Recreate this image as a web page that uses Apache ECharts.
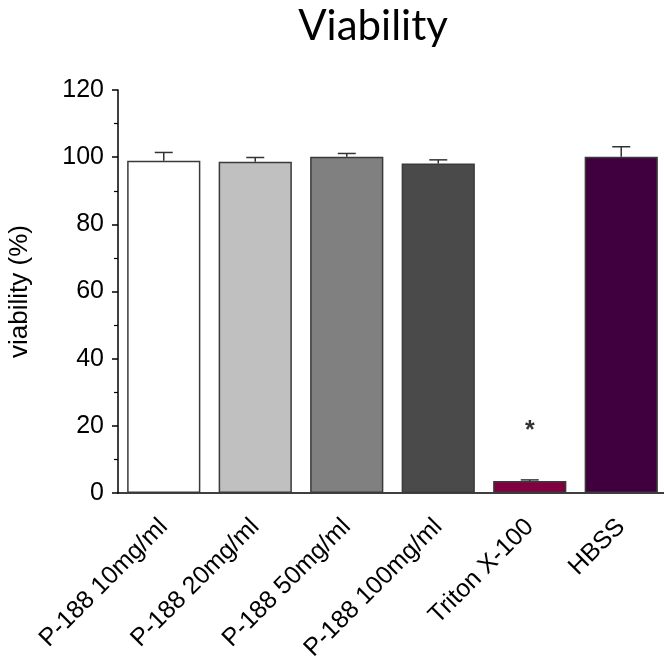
<!DOCTYPE html>
<html>
<head>
<meta charset="utf-8">
<script src="https://cdn.jsdelivr.net/npm/echarts@6/dist/echarts.min.js"></script>
<style>
  html, body { margin: 0; padding: 0; background: #fff; }
  #chart { width: 664px; height: 661px; }
</style>
</head>
<body>
<div id="chart"></div>
<script>
// data
const categories = ['P-188 10mg/ml', 'P-188 20mg/ml', 'P-188 50mg/ml', 'P-188 100mg/ml', 'Triton X-100', 'HBSS']
const viability = [98.9, 98.6, 100.1, 98.1, 3.6, 100.1]
const errors = [2.5, 1.3, 1.0, 1.1, 0.3, 3.0]
const barColors = ['#ffffff', '#c0c0c0', '#808080', '#4a4a4a', '#800040', '#400040']
const yTicks = [0, 20, 40, 60, 80, 100, 120]
const starMarks = [[4, 18.5]]

const chart = echarts.init(document.getElementById('chart'))

// 误差线：竖线加上端横帽
function renderError(params, api) {
  const i = api.value(0)
  const top = api.coord([i, api.value(1) + api.value(2)])
  const base = api.coord([i, api.value(1)])
  const half = 9
  const style = { stroke: '#333', lineWidth: 1.5 }
  return {
    type: 'group',
    children: [
      { type: 'line', shape: { x1: base[0], y1: base[1], x2: top[0], y2: top[1] }, style },
      { type: 'line', shape: { x1: top[0] - half, y1: top[1], x2: top[0] + half, y2: top[1] }, style },
    ],
  }
}

chart.setOption({
  animation: false,
  title: {
    text: 'Viability',
    left: 368,
    textAlign: 'center',
    top: 0,
    textStyle: { fontFamily: 'Lato', fontWeight: 'normal', fontSize: 42, color: '#000' },
  },
  grid: { left: 118, right: -3, top: 90, bottom: 168, containLabel: false, outerBoundsMode: 'none' },
  xAxis: {
    type: 'category',
    data: categories,
    axisLine: { lineStyle: { color: '#000', width: 1.5 } },
    axisTick: { alignWithLabel: true, length: 7, lineStyle: { color: '#000', width: 1.5 } },
    axisLabel: {
      rotate: 45,
      interval: 0,
      margin: 30,
      fontFamily: 'Liberation Sans',
      fontSize: 25,
      color: '#000',
    },
  },
  yAxis: {
    type: 'value',
    min: yTicks[0],
    max: yTicks[yTicks.length - 1],
    interval: 20,
    name: 'viability (%)',
    nameLocation: 'middle',
    nameGap: 85,
    nameTextStyle: { fontFamily: 'Liberation Sans', fontSize: 26, color: '#000' },
    axisLine: { show: true, lineStyle: { color: '#000', width: 1.5 } },
    axisTick: { show: true, length: 6, lineStyle: { color: '#000', width: 1.5 } },
    minorTick: { show: true, splitNumber: 2, length: 4, lineStyle: { color: '#000', width: 1.2 } },
    splitLine: { show: false },
    axisLabel: { margin: 14, fontFamily: 'Liberation Sans', fontSize: 25, color: '#000' },
  },
  series: [
    {
      type: 'bar',
      barCategoryGap: '20%',
      data: viability.map((v, i) => ({ value: v, itemStyle: { color: barColors[i] } })),
      itemStyle: { borderColor: '#3a3a3a', borderWidth: 1.5 },
    },
    {
      type: 'custom',
      renderItem: renderError,
      data: viability.map((v, i) => [i, v, errors[i]]),
      z: 3,
    },
    {
      type: 'scatter',
      data: starMarks,
      symbolSize: 0,
      label: {
        show: true,
        position: 'inside',
        formatter: '*',
        fontFamily: 'Liberation Sans',
        fontSize: 25,
        fontWeight: 'bold',
        color: '#000',
      },
    },
  ],
})
</script>
</body>
</html>
